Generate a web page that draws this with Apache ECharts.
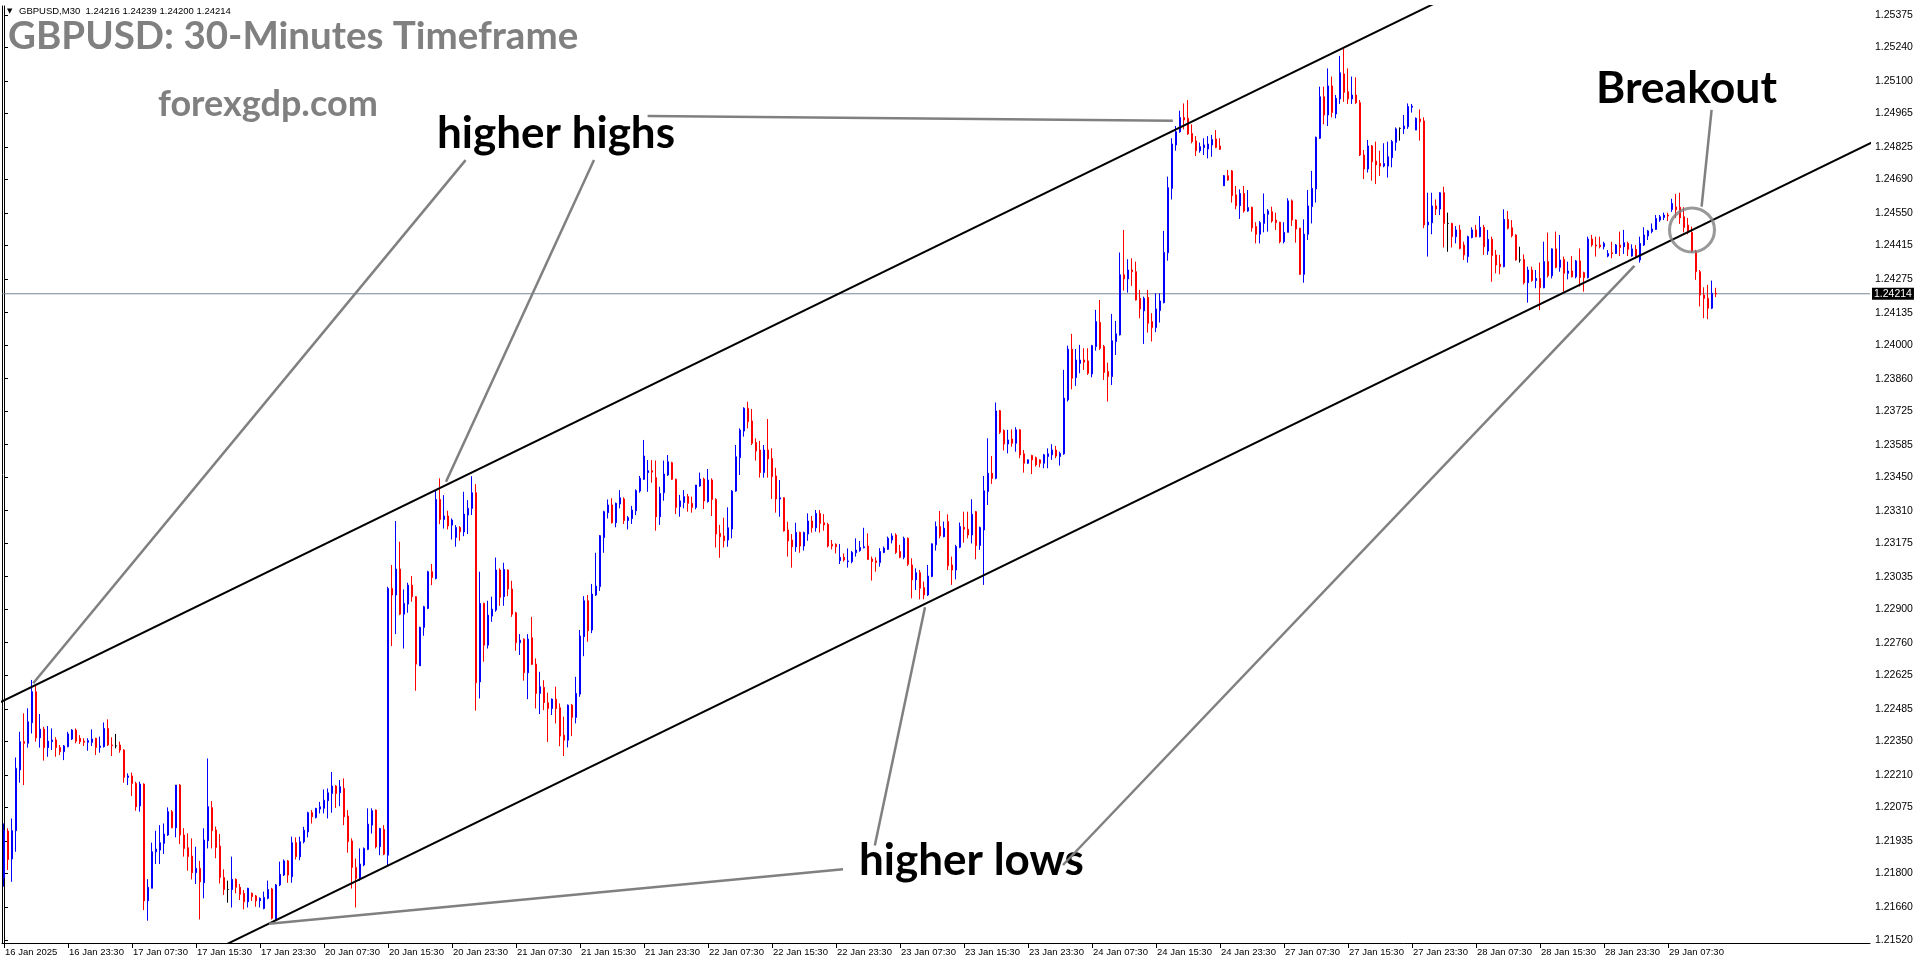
<!DOCTYPE html>
<html><head><meta charset="utf-8">
<script src="https://cdn.jsdelivr.net/npm/echarts@6/dist/echarts.min.js"></script>
<style>html,body{margin:0;padding:0;background:#fff}#c{width:1916px;height:964px}</style>
</head><body><div id="c"></div>
<script>
const symbolName = 'GBPUSD,M30';
const chartTitle = 'GBPUSD: 30-Minutes Timeframe';
const siteName = 'forexgdp.com';
const opens = [1.21782,1.21975,1.21859,1.21977,1.22230,1.22348,1.22341,1.22427,1.22556,1.22364,
1.22400,1.22323,1.22348,1.22355,1.22324,1.22306,1.22327,1.22359,1.22396,1.22362,
1.22350,1.22345,1.22345,1.22362,1.22324,1.22327,1.22403,1.22334,1.22330,1.22334,
1.22313,1.22199,1.22205,1.22174,1.22080,1.22171,1.21685,1.21737,1.21889,1.21896,
1.21924,1.21959,1.22056,1.21989,1.22167,1.21959,1.21906,1.21871,1.21802,1.21820,
1.21760,1.21935,1.22073,1.21980,1.21913,1.21782,1.21732,1.21732,1.21774,1.21741,
1.21716,1.21681,1.21716,1.21705,1.21685,1.21653,1.21695,1.21734,1.21607,1.21751,
1.21792,1.21851,1.21785,1.21927,1.21868,1.21931,1.21972,1.22052,1.22032,1.22067,
1.22070,1.22102,1.22132,1.22163,1.22135,1.22153,1.22038,1.21934,1.21824,1.21778,
1.21834,1.21899,1.22000,1.22063,1.21910,1.21982,1.21875,1.22986,1.22959,1.23067,
1.22879,1.22921,1.23000,1.22952,1.22664,1.22824,1.22903,1.23056,1.23028,1.23357,
1.23274,1.23288,1.23250,1.23199,1.23240,1.23222,1.23292,1.23320,1.23385,1.22597,
1.22924,1.22750,1.22871,1.22896,1.23063,1.22952,1.23063,1.22984,1.22885,1.22760,
1.22775,1.22635,1.22781,1.22671,1.22549,1.22574,1.22510,1.22486,1.22525,1.22489,
1.22375,1.22354,1.22500,1.22449,1.22546,1.22785,1.22935,1.22813,1.22959,1.22994,
1.23198,1.23302,1.23334,1.23260,1.23338,1.23359,1.23269,1.23278,1.23310,1.23392,
1.23441,1.23469,1.23477,1.23448,1.23285,1.23385,1.23459,1.23510,1.23441,1.23327,
1.23344,1.23369,1.23341,1.23324,1.23413,1.23442,1.23348,1.23438,1.23357,1.23216,
1.23205,1.23188,1.23234,1.23392,1.23531,1.23642,1.23737,1.23684,1.23594,1.23563,
1.23469,1.23563,1.23528,1.23455,1.23359,1.23364,1.23230,1.23188,1.23160,1.23220,
1.23163,1.23213,1.23267,1.23239,1.23299,1.23260,1.23253,1.23170,1.23170,1.23102,
1.23116,1.23098,1.23098,1.23135,1.23144,1.23156,1.23163,1.23109,1.23101,1.23094,
1.23136,1.23149,1.23188,1.23209,1.23140,1.23116,1.23195,1.23084,1.23022,1.23052,
1.22990,1.22959,1.23036,1.23168,1.23244,1.23202,1.23265,1.23084,1.23063,1.23158,
1.23241,1.23233,1.23209,1.23306,1.23165,1.23230,1.23390,1.23466,1.23445,1.23727,
1.23644,1.23588,1.23609,1.23591,1.23647,1.23547,1.23508,1.23540,1.23531,1.23522,
1.23508,1.23536,1.23543,1.23563,1.23536,1.23547,1.23772,1.23983,1.23865,1.23924,
1.23938,1.23934,1.23880,1.23994,1.24094,1.23994,1.23890,1.23869,1.24015,1.24043,
1.24293,1.24276,1.24313,1.24306,1.24195,1.24143,1.24199,1.24098,1.24073,1.24144,
1.24177,1.24385,1.24653,1.24834,1.24889,1.24948,1.24945,1.24882,1.24851,1.24810,
1.24823,1.24817,1.24834,1.24859,1.24830,1.24664,1.24706,1.24726,1.24626,1.24581,
1.24632,1.24559,1.24574,1.24494,1.24462,1.24507,1.24545,1.24556,1.24521,1.24512,
1.24431,1.24470,1.24601,1.24521,1.24487,1.24295,1.24462,1.24577,1.24651,1.24862,
1.25035,1.24959,1.25080,1.24963,1.25026,1.25130,1.25056,1.25026,1.25042,1.25010,
1.24792,1.24734,1.24830,1.24767,1.24757,1.24746,1.24746,1.24781,1.24845,1.24903,
1.24901,1.24910,1.24991,1.24896,1.24942,1.24934,1.24501,1.24510,1.24580,1.24567,
1.24635,1.24507,1.24507,1.24452,1.24480,1.24417,1.24369,1.24448,1.24480,1.24452,
1.24491,1.24392,1.24441,1.24376,1.24338,1.24327,1.24524,1.24489,1.24459,1.24355,
1.24357,1.24260,1.24313,1.24269,1.24278,1.24239,1.24348,1.24289,1.24401,1.24324,
1.24357,1.24299,1.24309,1.24285,1.24351,1.24302,1.24281,1.24442,1.24417,1.24417,
1.24410,1.24371,1.24385,1.24382,1.24417,1.24410,1.24424,1.24371,1.24399,1.24355,
1.24417,1.24455,1.24473,1.24482,1.24521,1.24532,1.24542,1.24565,1.24576,1.24575,
1.24535,1.24500,1.24469,1.24390,1.24306,1.24209,1.24195,1.24154,1.24216];
const highs = [1.22007,1.21987,1.22028,1.22282,1.22389,1.22466,1.22487,1.22605,1.22580,1.22463,
1.22410,1.22413,1.22403,1.22366,1.22334,1.22334,1.22389,1.22400,1.22403,1.22375,
1.22362,1.22362,1.22399,1.22364,1.22369,1.22428,1.22441,1.22366,1.22380,1.22348,
1.22316,1.22216,1.22219,1.22181,1.22181,1.22174,1.21775,1.21927,1.21977,1.22000,
1.22007,1.22074,1.22063,1.22167,1.22171,1.21987,1.21966,1.21945,1.21910,1.21851,
1.21987,1.22278,1.22100,1.21994,1.21963,1.21816,1.21769,1.21869,1.21778,1.21755,
1.21730,1.21739,1.21719,1.21709,1.21699,1.21723,1.21769,1.21739,1.21755,1.21848,
1.21857,1.21855,1.21952,1.21949,1.21952,1.21993,1.22056,1.22063,1.22072,1.22097,
1.22149,1.22153,1.22222,1.22167,1.22188,1.22195,1.22063,1.21945,1.21861,1.21903,
1.21907,1.22070,1.22070,1.22065,1.21989,1.22000,1.22993,1.23084,1.23267,1.23181,
1.22982,1.23010,1.23038,1.22954,1.22827,1.22914,1.23060,1.23088,1.23396,1.23445,
1.23375,1.23310,1.23278,1.23250,1.23246,1.23389,1.23354,1.23454,1.23421,1.23056,
1.22927,1.22935,1.22952,1.23115,1.23070,1.23093,1.23065,1.23018,1.22889,1.22796,
1.22778,1.22796,1.22868,1.22695,1.22639,1.22604,1.22552,1.22528,1.22577,1.22507,
1.22452,1.22503,1.22505,1.22618,1.22813,1.22954,1.22959,1.23005,1.23135,1.23209,
1.23310,1.23357,1.23362,1.23344,1.23396,1.23366,1.23288,1.23330,1.23399,1.23455,
1.23605,1.23521,1.23521,1.23519,1.23410,1.23519,1.23542,1.23514,1.23444,1.23376,
1.23396,1.23380,1.23369,1.23417,1.23469,1.23448,1.23484,1.23445,1.23362,1.23251,
1.23281,1.23324,1.23396,1.23584,1.23653,1.23741,1.23764,1.23734,1.23612,1.23601,
1.23584,1.23692,1.23570,1.23489,1.23438,1.23366,1.23264,1.23213,1.23260,1.23223,
1.23223,1.23299,1.23288,1.23313,1.23313,1.23296,1.23260,1.23188,1.23174,1.23171,
1.23132,1.23153,1.23142,1.23195,1.23184,1.23239,1.23216,1.23119,1.23116,1.23154,
1.23161,1.23202,1.23216,1.23216,1.23168,1.23202,1.23199,1.23112,1.23070,1.23063,
1.23015,1.23084,1.23174,1.23265,1.23309,1.23265,1.23295,1.23119,1.23168,1.23261,
1.23306,1.23306,1.23358,1.23309,1.23244,1.23455,1.23612,1.23538,1.23761,1.23730,
1.23649,1.23647,1.23649,1.23658,1.23650,1.23563,1.23524,1.23543,1.23536,1.23524,
1.23547,1.23570,1.23587,1.23580,1.23556,1.23897,1.23998,1.24047,1.23984,1.24001,
1.23987,1.23987,1.24001,1.24147,1.24188,1.24001,1.23927,1.24130,1.24101,1.24386,
1.24480,1.24358,1.24362,1.24348,1.24230,1.24202,1.24230,1.24133,1.24216,1.24216,
1.24476,1.24702,1.24862,1.24913,1.24977,1.25007,1.25021,1.24920,1.24871,1.24844,
1.24862,1.24871,1.24876,1.24896,1.24862,1.24709,1.24730,1.24730,1.24663,1.24649,
1.24663,1.24646,1.24577,1.24512,1.24517,1.24632,1.24567,1.24577,1.24552,1.24514,
1.24512,1.24612,1.24607,1.24524,1.24489,1.24524,1.24646,1.24726,1.24869,1.25077,
1.25077,1.25153,1.25119,1.25042,1.25205,1.25237,1.25153,1.25119,1.25116,1.25021,
1.24813,1.24855,1.24834,1.24848,1.24810,1.24841,1.24848,1.24855,1.24907,1.24907,
1.24959,1.25007,1.25005,1.24949,1.24982,1.24949,1.24635,1.24635,1.24607,1.24637,
1.24660,1.24552,1.24510,1.24496,1.24501,1.24431,1.24456,1.24491,1.24501,1.24538,
1.24501,1.24480,1.24452,1.24396,1.24376,1.24566,1.24559,1.24521,1.24462,1.24410,
1.24378,1.24327,1.24327,1.24313,1.24344,1.24431,1.24469,1.24403,1.24473,1.24459,
1.24369,1.24348,1.24371,1.24355,1.24403,1.24306,1.24452,1.24459,1.24452,1.24452,
1.24431,1.24396,1.24431,1.24421,1.24473,1.24480,1.24431,1.24420,1.24417,1.24452,
1.24491,1.24480,1.24507,1.24542,1.24542,1.24552,1.24552,1.24610,1.24630,1.24635,
1.24575,1.24530,1.24494,1.24397,1.24313,1.24241,1.24251,1.24269,1.24239];
const lows = [1.21744,1.21813,1.21764,1.21889,1.22177,1.22167,1.22323,1.22382,1.22348,1.22323,
1.22269,1.22285,1.22313,1.22285,1.22292,1.22271,1.22324,1.22355,1.22341,1.22338,
1.22330,1.22310,1.22330,1.22292,1.22302,1.22323,1.22330,1.22288,1.22320,1.22302,
1.22177,1.22167,1.22121,1.22060,1.22056,1.21646,1.21602,1.21737,1.21838,1.21838,
1.21880,1.21955,1.21987,1.21949,1.21921,1.21869,1.21810,1.21774,1.21755,1.21607,
1.21695,1.21903,1.21903,1.21862,1.21757,1.21709,1.21677,1.21657,1.21716,1.21688,
1.21649,1.21657,1.21684,1.21660,1.21657,1.21649,1.21691,1.21607,1.21605,1.21746,
1.21788,1.21760,1.21760,1.21857,1.21854,1.21924,1.21949,1.22007,1.22028,1.22049,
1.22049,1.22028,1.22052,1.22072,1.22079,1.22000,1.21885,1.21736,1.21657,1.21768,
1.21829,1.21896,1.21965,1.21903,1.21875,1.21875,1.21834,1.22746,1.22796,1.22875,
1.22736,1.22885,1.22931,1.22560,1.22663,1.22789,1.22900,1.23000,1.23024,1.23254,
1.23236,1.23232,1.23190,1.23160,1.23185,1.23204,1.23213,1.23292,1.22477,1.22528,
1.22681,1.22736,1.22847,1.22889,1.22914,1.22914,1.22954,1.22868,1.22727,1.22709,
1.22602,1.22525,1.22667,1.22486,1.22463,1.22479,1.22347,1.22459,1.22424,1.22329,
1.22288,1.22324,1.22371,1.22424,1.22535,1.22704,1.22764,1.22800,1.22955,1.22976,
1.23135,1.23278,1.23257,1.23241,1.23320,1.23255,1.23232,1.23255,1.23292,1.23385,
1.23438,1.23389,1.23427,1.23227,1.23251,1.23352,1.23455,1.23438,1.23296,1.23285,
1.23320,1.23306,1.23302,1.23316,1.23410,1.23317,1.23344,1.23288,1.23157,1.23114,
1.23157,1.23160,1.23195,1.23389,1.23459,1.23619,1.23653,1.23584,1.23519,1.23448,
1.23448,1.23448,1.23359,1.23302,1.23285,1.23223,1.23119,1.23073,1.23139,1.23135,
1.23144,1.23185,1.23219,1.23223,1.23219,1.23227,1.23157,1.23149,1.23132,1.23088,
1.23098,1.23073,1.23091,1.23119,1.23139,1.23153,1.23105,1.23019,1.23056,1.23077,
1.23133,1.23147,1.23174,1.23130,1.23112,1.23108,1.23080,1.22945,1.22980,1.22941,
1.22941,1.22955,1.23033,1.23144,1.23195,1.23199,1.23063,1.23001,1.23024,1.23154,
1.23177,1.23195,1.23174,1.23108,1.23147,1.23001,1.23334,1.23422,1.23441,1.23630,
1.23561,1.23549,1.23577,1.23556,1.23529,1.23469,1.23505,1.23463,1.23494,1.23491,
1.23487,1.23487,1.23522,1.23529,1.23498,1.23543,1.23765,1.23816,1.23830,1.23883,
1.23897,1.23876,1.23866,1.23977,1.23980,1.23855,1.23765,1.23834,1.23959,1.24040,
1.24227,1.24219,1.24247,1.24186,1.24112,1.24005,1.24052,1.24015,1.24054,1.24094,
1.24174,1.24352,1.24607,1.24810,1.24885,1.24899,1.24876,1.24841,1.24788,1.24802,
1.24792,1.24778,1.24785,1.24820,1.24813,1.24663,1.24685,1.24594,1.24566,1.24526,
1.24552,1.24556,1.24473,1.24424,1.24424,1.24470,1.24473,1.24510,1.24480,1.24424,
1.24424,1.24470,1.24496,1.24427,1.24292,1.24260,1.24438,1.24507,1.24594,1.24859,
1.24920,1.24913,1.24949,1.24945,1.25005,1.25014,1.25005,1.25005,1.25005,1.24788,
1.24692,1.24719,1.24685,1.24671,1.24705,1.24741,1.24698,1.24741,1.24810,1.24852,
1.24880,1.24901,1.24969,1.24896,1.24852,1.24487,1.24369,1.24462,1.24542,1.24542,
1.24407,1.24389,1.24407,1.24424,1.24399,1.24355,1.24344,1.24445,1.24449,1.24449,
1.24376,1.24376,1.24264,1.24299,1.24295,1.24324,1.24482,1.24449,1.24352,1.24344,
1.24253,1.24177,1.24264,1.24237,1.24146,1.24237,1.24282,1.24278,1.24320,1.24306,
1.24223,1.24274,1.24282,1.24278,1.24244,1.24223,1.24278,1.24410,1.24369,1.24403,
1.24399,1.24366,1.24362,1.24380,1.24371,1.24380,1.24371,1.24369,1.24362,1.24344,
1.24413,1.24438,1.24466,1.24480,1.24514,1.24521,1.24517,1.24555,1.24530,1.24505,
1.24470,1.24462,1.24386,1.24272,1.24161,1.24112,1.24108,1.24150,1.24200];
const closes = [1.21977,1.21857,1.21977,1.22237,1.22348,1.22341,1.22431,1.22556,1.22364,1.22400,
1.22323,1.22350,1.22355,1.22323,1.22306,1.22330,1.22380,1.22396,1.22350,1.22348,
1.22345,1.22352,1.22359,1.22324,1.22330,1.22403,1.22334,1.22331,1.22330,1.22313,
1.22199,1.22205,1.22174,1.22077,1.22171,1.21685,1.21741,1.21889,1.21900,1.21927,
1.21963,1.22056,1.21989,1.22167,1.21959,1.21903,1.21869,1.21802,1.21820,1.21764,
1.21938,1.22077,1.21977,1.21907,1.21782,1.21732,1.21732,1.21774,1.21741,1.21712,
1.21681,1.21737,1.21702,1.21685,1.21695,1.21699,1.21732,1.21612,1.21751,1.21795,
1.21851,1.21792,1.21927,1.21869,1.21931,1.21979,1.22052,1.22035,1.22070,1.22077,
1.22104,1.22135,1.22163,1.22132,1.22160,1.22035,1.21931,1.21824,1.21778,1.21838,
1.21903,1.22004,1.22060,1.21910,1.21986,1.21879,1.22986,1.22959,1.23067,1.22879,
1.22924,1.23000,1.22952,1.22671,1.22824,1.22910,1.23056,1.23032,1.23357,1.23274,
1.23288,1.23247,1.23271,1.23240,1.23222,1.23296,1.23320,1.23385,1.22593,1.22924,
1.22750,1.22875,1.22900,1.23063,1.22949,1.23065,1.22984,1.22879,1.22760,1.22771,
1.22635,1.22775,1.22670,1.22549,1.22577,1.22511,1.22486,1.22525,1.22486,1.22371,
1.22354,1.22500,1.22449,1.22549,1.22788,1.22935,1.22810,1.22963,1.22996,1.23206,
1.23306,1.23334,1.23260,1.23341,1.23364,1.23269,1.23281,1.23313,1.23394,1.23445,
1.23538,1.23477,1.23471,1.23285,1.23382,1.23463,1.23514,1.23441,1.23324,1.23351,
1.23369,1.23341,1.23324,1.23417,1.23442,1.23351,1.23438,1.23357,1.23213,1.23202,
1.23185,1.23239,1.23392,1.23535,1.23646,1.23737,1.23681,1.23591,1.23559,1.23469,
1.23563,1.23526,1.23452,1.23359,1.23364,1.23226,1.23184,1.23160,1.23220,1.23163,
1.23219,1.23267,1.23239,1.23299,1.23257,1.23251,1.23163,1.23163,1.23160,1.23116,
1.23105,1.23101,1.23137,1.23146,1.23157,1.23160,1.23107,1.23098,1.23094,1.23140,
1.23154,1.23195,1.23205,1.23136,1.23116,1.23195,1.23087,1.23022,1.23052,1.22987,
1.22959,1.23038,1.23172,1.23244,1.23205,1.23237,1.23081,1.23063,1.23161,1.23244,
1.23233,1.23209,1.23295,1.23165,1.23240,1.23393,1.23466,1.23445,1.23726,1.23637,
1.23588,1.23605,1.23591,1.23647,1.23543,1.23508,1.23522,1.23522,1.23501,1.23508,
1.23543,1.23547,1.23563,1.23538,1.23549,1.23779,1.23983,1.23862,1.23938,1.23938,
1.23929,1.23883,1.23998,1.24098,1.23987,1.23886,1.23869,1.24018,1.24047,1.24293,
1.24276,1.24313,1.24306,1.24188,1.24151,1.24195,1.24091,1.24073,1.24151,1.24184,
1.24386,1.24656,1.24838,1.24889,1.24948,1.24938,1.24880,1.24848,1.24810,1.24827,
1.24834,1.24838,1.24857,1.24824,1.24816,1.24706,1.24688,1.24623,1.24581,1.24632,
1.24559,1.24573,1.24489,1.24462,1.24510,1.24546,1.24559,1.24517,1.24510,1.24431,
1.24470,1.24601,1.24521,1.24484,1.24295,1.24462,1.24580,1.24653,1.24866,1.25035,
1.24959,1.25080,1.24969,1.25028,1.25135,1.25053,1.25026,1.25042,1.25010,1.24792,
1.24734,1.24830,1.24764,1.24751,1.24746,1.24757,1.24785,1.24848,1.24901,1.24903,
1.24913,1.24994,1.24996,1.24945,1.24931,1.24501,1.24512,1.24580,1.24567,1.24635,
1.24507,1.24507,1.24452,1.24480,1.24403,1.24376,1.24452,1.24480,1.24452,1.24491,
1.24410,1.24441,1.24373,1.24334,1.24327,1.24524,1.24487,1.24456,1.24355,1.24355,
1.24260,1.24313,1.24269,1.24278,1.24239,1.24348,1.24289,1.24401,1.24324,1.24355,
1.24299,1.24309,1.24285,1.24351,1.24282,1.24281,1.24442,1.24417,1.24413,1.24410,
1.24424,1.24382,1.24382,1.24417,1.24407,1.24427,1.24399,1.24401,1.24369,1.24424,
1.24459,1.24476,1.24484,1.24528,1.24535,1.24542,1.24538,1.24590,1.24564,1.24530,
1.24490,1.24470,1.24390,1.24306,1.24209,1.24195,1.24154,1.24216,1.24214];
const xTickLabels = ['16 Jan 2025','16 Jan 23:30','17 Jan 07:30','17 Jan 15:30','17 Jan 23:30','20 Jan 07:30','20 Jan 15:30','20 Jan 23:30','21 Jan 07:30','21 Jan 15:30','21 Jan 23:30','22 Jan 07:30','22 Jan 15:30','22 Jan 23:30','23 Jan 07:30','23 Jan 15:30','23 Jan 23:30','24 Jan 07:30','24 Jan 15:30','24 Jan 23:30','27 Jan 07:30','27 Jan 15:30','27 Jan 23:30','28 Jan 07:30','28 Jan 15:30','28 Jan 23:30','29 Jan 07:30'];
const barsPerXTick = 16;
const yTickValues = [1.21520,1.21660,1.21800,1.21935,1.22075,1.22210,1.22350,1.22485,1.22625,1.22760,1.22900,1.23035,1.23175,1.23310,1.23450,1.23585,1.23725,1.23860,1.24000,1.24135,1.24275,1.24415,1.24550,1.24690,1.24825,1.24965,1.25100,1.25240,1.25375];
const yMin = 1.21509, yMax = 1.25413;
const emptyBarsRight = 38;
// trend / annotation anchors in (bar index, price)
const upperChannel = [[-1, 1.22512], [360, 1.25443]];
const lowerChannel = [[50, 1.21458], [467, 1.24845]];
const higherHighsPointers = [
  [[7.3, 1.22591], [115.4, 1.24771]],
  [[110.5, 1.23431], [147.5, 1.24771]],
  [[160.9, 1.24955], [292.2, 1.24935]]
];
const higherLowsPointers = [
  [[66.25, 1.21589], [209.75, 1.21816]],
  [[217.7, 1.21915], [230.25, 1.22908]],
  [[264.75, 1.21834], [407.6, 1.24330]]
];
const breakoutPointer = [[426.9, 1.24980], [424.4, 1.24577]];
const breakoutCircle = [422, 1.24480];

const n = opens.length;
const lastPrice = closes[n - 1];
const cats = [];
for (let i = 0; i < n + emptyBarsRight; i++) cats.push(String(i));
const candleData = opens.map((o, i) => {
  const item = { value: [o, closes[i], lows[i], highs[i]] };
  if (o === closes[i]) item.itemStyle = { color: '#000', borderColor: '#000', color0: '#000', borderColor0: '#000' };
  return item;
});
const isTick = (idx) => idx % barsPerXTick === 0 && idx / barsPerXTick < xTickLabels.length;

function lineSeries(pts, color, width, z) {
  return { type: 'line', xAxisIndex: 1, yAxisIndex: 0, data: pts, symbol: 'none', silent: true,
    clip: true, animation: false, lineStyle: { color: color, width: width }, z: z || 5 };
}

const series = [];
// current price line (drawn first, behind candles)
const priceLine = lineSeries([[-0.5, lastPrice], [cats.length - 0.5, lastPrice]], '#778899', 1, 1);
priceLine.clip = false;
priceLine.endLabel = { show: true, formatter: lastPrice.toFixed(5), backgroundColor: '#000', color: '#fff',
  fontSize: 10.5, fontFamily: 'Liberation Sans', padding: [1, 2, 0, 2], distance: 2 };
series.push(priceLine);
series.push({
  type: 'candlestick', data: candleData, barWidth: 2, animation: false, silent: true,
  itemStyle: { color: '#0000ff', color0: '#ff0000', borderColor: '#0000ff', borderColor0: '#ff0000', borderWidth: 1 },
  z: 3
});
series.push(lineSeries(upperChannel, '#000', 2));
series.push(lineSeries(lowerChannel, '#000', 2));
higherHighsPointers.concat(higherLowsPointers).forEach(p => series.push(lineSeries(p, '#808080', 2.5)));
series.push(lineSeries(breakoutPointer, '#808080', 2.5));
series.push({ type: 'scatter', xAxisIndex: 1, yAxisIndex: 0, data: [breakoutCircle], symbol: 'circle', symbolSize: [45, 44],
  silent: true, animation: false, itemStyle: { color: 'rgba(0,0,0,0)', borderColor: '#808080', borderWidth: 3 }, z: 6 });

const chart = echarts.init(document.getElementById('c'));
chart.setOption({
  animation: false,
  backgroundColor: '#fff',
  grid: { left: 2, right: 46, top: 6, bottom: 21, containLabel: false },
  xAxis: [{
    type: 'category', data: cats, boundaryGap: true,
    axisLine: { show: true, lineStyle: { color: '#000', width: 1 } },
    axisTick: { show: true, alignWithLabel: true, length: 5, interval: (idx) => isTick(idx), lineStyle: { color: '#000' } },
    axisLabel: { interval: (idx) => isTick(idx), formatter: (v) => xTickLabels[Number(v) / barsPerXTick],
      align: 'left', color: '#000', fontSize: 9.5, fontFamily: 'Liberation Sans', margin: 4, padding: [0, 0, 0, 1] },
    splitLine: { show: false }
  }, {
    type: 'value', min: -0.5, max: cats.length - 0.5, show: false
  }],
  yAxis: [{
    type: 'value', position: 'right', min: yMin, max: yMax,
    splitLine: { show: false },
    axisLine: { show: true, lineStyle: { color: '#000', width: 1 } },
    axisTick: { show: true, length: 4, customValues: yTickValues, lineStyle: { color: '#000' } },
    axisLabel: { customValues: yTickValues, formatter: (v) => v.toFixed(5), color: '#000', fontSize: 10.5,
      fontFamily: 'Liberation Sans', margin: 5 }
  }, {
    type: 'value', position: 'left', min: yMin, max: yMax, splitLine: { show: false },
    axisLine: { show: true, lineStyle: { color: '#000', width: 1 } }, axisTick: { show: false }, axisLabel: { show: false }
  }],
  series: series,
  graphic: [
    { type: 'text', x: 7, y: 11, style: { text: '▼', font: '7px "DejaVu Sans"', fill: '#000', textVerticalAlign: 'middle' } },
    { type: 'text', x: 19, y: 11, style: { text: symbolName + '  ' + [opens[n-1], highs[n-1], lows[n-1], closes[n-1]].map(v => v.toFixed(5)).join(' '),
      font: '9.5px "Liberation Sans"', fill: '#000', textVerticalAlign: 'middle' } },
    { type: 'text', x: 8, y: 37, style: { text: chartTitle, font: 'bold 38.5px Lato', fill: '#808080', textVerticalAlign: 'middle' } },
    { type: 'text', x: 158, y: 104, style: { text: siteName, font: 'bold 36px Lato', fill: '#808080', textVerticalAlign: 'middle' } },
    { type: 'text', x: 437, y: 134, style: { text: 'higher highs', font: 'bold 44px Lato', fill: '#000', textVerticalAlign: 'middle' } },
    { type: 'text', x: 859, y: 861, style: { text: 'higher lows', font: 'bold 44px Lato', fill: '#000', textVerticalAlign: 'middle' } },
    { type: 'text', x: 1596, y: 89, style: { text: 'Breakout', font: 'bold 44.5px Lato', fill: '#000', textVerticalAlign: 'middle' } }
  ]
});
</script></body></html>
